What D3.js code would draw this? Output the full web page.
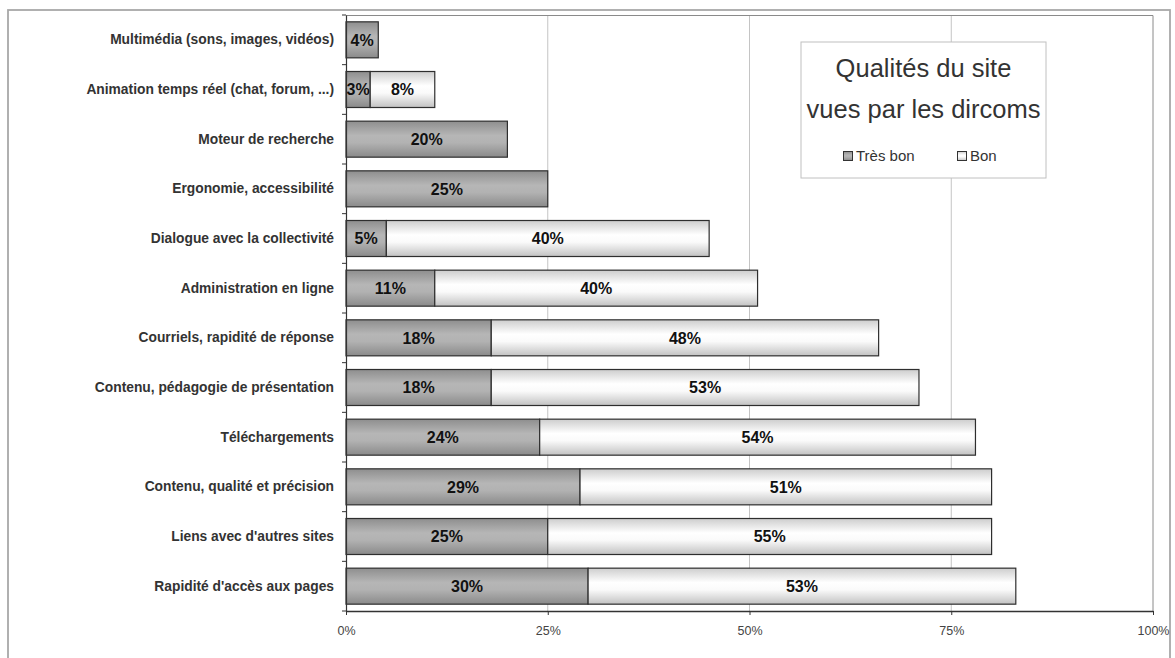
<!DOCTYPE html>
<head>
    <meta charset="utf-8">
    <title>Qualités du site</title>
    <style>
        body { margin: 0; background: #fff; }
        text { font-family: "Liberation Sans", Arial, sans-serif; }
    </style>
</head>
<body>
<svg width="1175" height="658"></svg>
<script src="https://d3js.org/d3.v7.min.js"></script>
<script>

    // data, top to bottom
    var categories = [
        "Multimédia (sons, images, vidéos)",
        "Animation temps réel (chat, forum, ...)",
        "Moteur de recherche",
        "Ergonomie, accessibilité",
        "Dialogue avec la collectivité",
        "Administration en ligne",
        "Courriels, rapidité de réponse",
        "Contenu, pédagogie de présentation",
        "Téléchargements",
        "Contenu, qualité et précision",
        "Liens avec d'autres sites",
        "Rapidité d'accès aux pages"
    ];
    var tresBon = [4, 3, 20, 25, 5, 11, 18, 18, 24, 29, 25, 30];
    var bon = [0, 8, 0, 0, 40, 40, 48, 53, 54, 51, 55, 53];
    var seriesNames = ["Très bon", "Bon"];
    var xTicks = [0, 25, 50, 75, 100];
    var titleLines = ["Qualités du site", "vues par les dircoms"];

    var svg = d3.select("svg"),
        margin = { top: 15, right: 22, bottom: 47, left: 346 },
        width = +svg.attr("width") - margin.left - margin.right,
        height = +svg.attr("height") - margin.top - margin.bottom;

    // outer frame
    svg.append("rect")
        .attr("x", 8).attr("y", 10)
        .attr("width", 1162).attr("height", 660)
        .attr("fill", "none")
        .attr("stroke", "#a8a8a8")
        .attr("stroke-width", 1.8);

    // gradients
    var defs = svg.append("defs");
    function grad(id, stops) {
        var lg = defs.append("linearGradient")
            .attr("id", id)
            .attr("x1", "0%").attr("y1", "0%")
            .attr("x2", "0%").attr("y2", "100%");
        stops.forEach(function (s) {
            lg.append("stop").attr("offset", s[0]).attr("stop-color", s[1]);
        });
    }
    grad("g-dark", [["0%", "#8e8e8e"], ["40%", "#b6b6b6"], ["60%", "#b2b2b2"], ["100%", "#8a8a8a"]]);
    grad("g-light", [["0%", "#cdcdcd"], ["40%", "#ffffff"], ["60%", "#fafafa"], ["100%", "#c2c2c2"]]);
    var fills = ["url(#g-dark)", "url(#g-light)"];

    var g = svg.append("g")
        .attr("transform", "translate(" + margin.left + "," + margin.top + ")");

    var x = d3.scaleLinear().domain([0, 100]).range([0, width]);
    var y = d3.scaleBand().domain(categories).range([0, height])
        .paddingInner(0.275).paddingOuter(0.1375);

    // gridlines
    g.selectAll(".grid")
        .data(xTicks.slice(1, -1))
        .enter().append("line")
        .attr("x1", function (d) { return x(d); })
        .attr("x2", function (d) { return x(d); })
        .attr("y1", 0).attr("y2", height)
        .attr("stroke", "#c4c4c4");

    // plot border top/right
    g.append("path")
        .attr("d", "M0,0.5H" + x(100) + "V" + height)
        .attr("fill", "none")
        .attr("stroke", "#8a8a8a");

    // stacked bars
    var rows = categories.map(function (c, i) {
        return { cat: c, segs: [[0, tresBon[i]], [tresBon[i], tresBon[i] + bon[i]]] };
    });

    var row = g.selectAll(".row")
        .data(rows)
        .enter().append("g")
        .attr("transform", function (d) { return "translate(0," + y(d.cat) + ")"; });

    row.each(function (d) {
        var r = d3.select(this);
        d.segs.forEach(function (s, k) {
            if (s[1] - s[0] <= 0) return;
            r.append("rect")
                .attr("x", x(s[0]))
                .attr("width", x(s[1]) - x(s[0]))
                .attr("height", y.bandwidth())
                .attr("fill", fills[k])
                .attr("stroke", "#2e2e2e")
                .attr("stroke-width", 1.2);
            r.append("text")
                .attr("x", (x(s[0]) + x(s[1])) / 2)
                .attr("y", y.bandwidth() / 2)
                .attr("dy", "0.36em")
                .attr("text-anchor", "middle")
                .style("font-size", "16px")
                .style("font-weight", "bold")
                .attr("fill", "#111")
                .text((s[1] - s[0]) + "%");
        });
    });

    // X axis
    var xAxis = g.append("g")
        .attr("transform", "translate(0," + height + ")")
        .call(d3.axisBottom(x).tickValues(xTicks).tickFormat(function (d) { return d + "%"; })
            .tickSize(4).tickSizeOuter(0).tickPadding(11));
    xAxis.select(".domain").attr("stroke", "#333").attr("stroke-width", 1.5);
    xAxis.selectAll(".tick line").attr("stroke", "#333");
    xAxis.selectAll("text").style("font-size", "12.5px").attr("fill", "#444");

    // Y axis: labels at band centers, ticks at band boundaries
    var yAxis = g.append("g")
        .call(d3.axisLeft(y).tickSize(0).tickPadding(12));
    yAxis.select(".domain").attr("stroke", "#333").attr("stroke-width", 1.2);
    yAxis.selectAll("text")
        .style("font-size", "13.8px")
        .style("font-weight", "bold")
        .attr("fill", "#333");

    var bounds = categories.map(function (c) { return y(c) - y.step() * y.paddingInner() / 2; });
    bounds.push(height);
    g.selectAll(".ytick")
        .data(bounds)
        .enter().append("line")
        .attr("x1", -4).attr("x2", 0)
        .attr("y1", function (d) { return d; })
        .attr("y2", function (d) { return d; })
        .attr("stroke", "#333");

    // legend
    var lg = svg.append("g").attr("transform", "translate(801,42)");
    lg.append("rect")
        .attr("width", 245).attr("height", 136)
        .attr("fill", "#fff")
        .attr("stroke", "#c0c0c0");
    lg.selectAll(".ttl")
        .data(titleLines)
        .enter().append("text")
        .attr("x", 122.5)
        .attr("y", function (d, i) { return 35 + i * 41; })
        .attr("text-anchor", "middle")
        .style("font-size", "25.5px")
        .attr("fill", "#333")
        .text(function (d) { return d; });

    var item = lg.selectAll(".item")
        .data(seriesNames)
        .enter().append("g")
        .attr("transform", function (d, i) { return "translate(" + (42 + i * 114) + ",114)"; });
    item.append("rect")
        .attr("x", 0.5).attr("y", -4.5)
        .attr("width", 9).attr("height", 9)
        .attr("fill", function (d, i) { return fills[i]; })
        .attr("stroke", "#333");
    item.append("text")
        .attr("x", 13)
        .attr("dy", "0.36em")
        .style("font-size", "15px")
        .attr("fill", "#333")
        .text(function (d) { return d; });

</script>
</body>
